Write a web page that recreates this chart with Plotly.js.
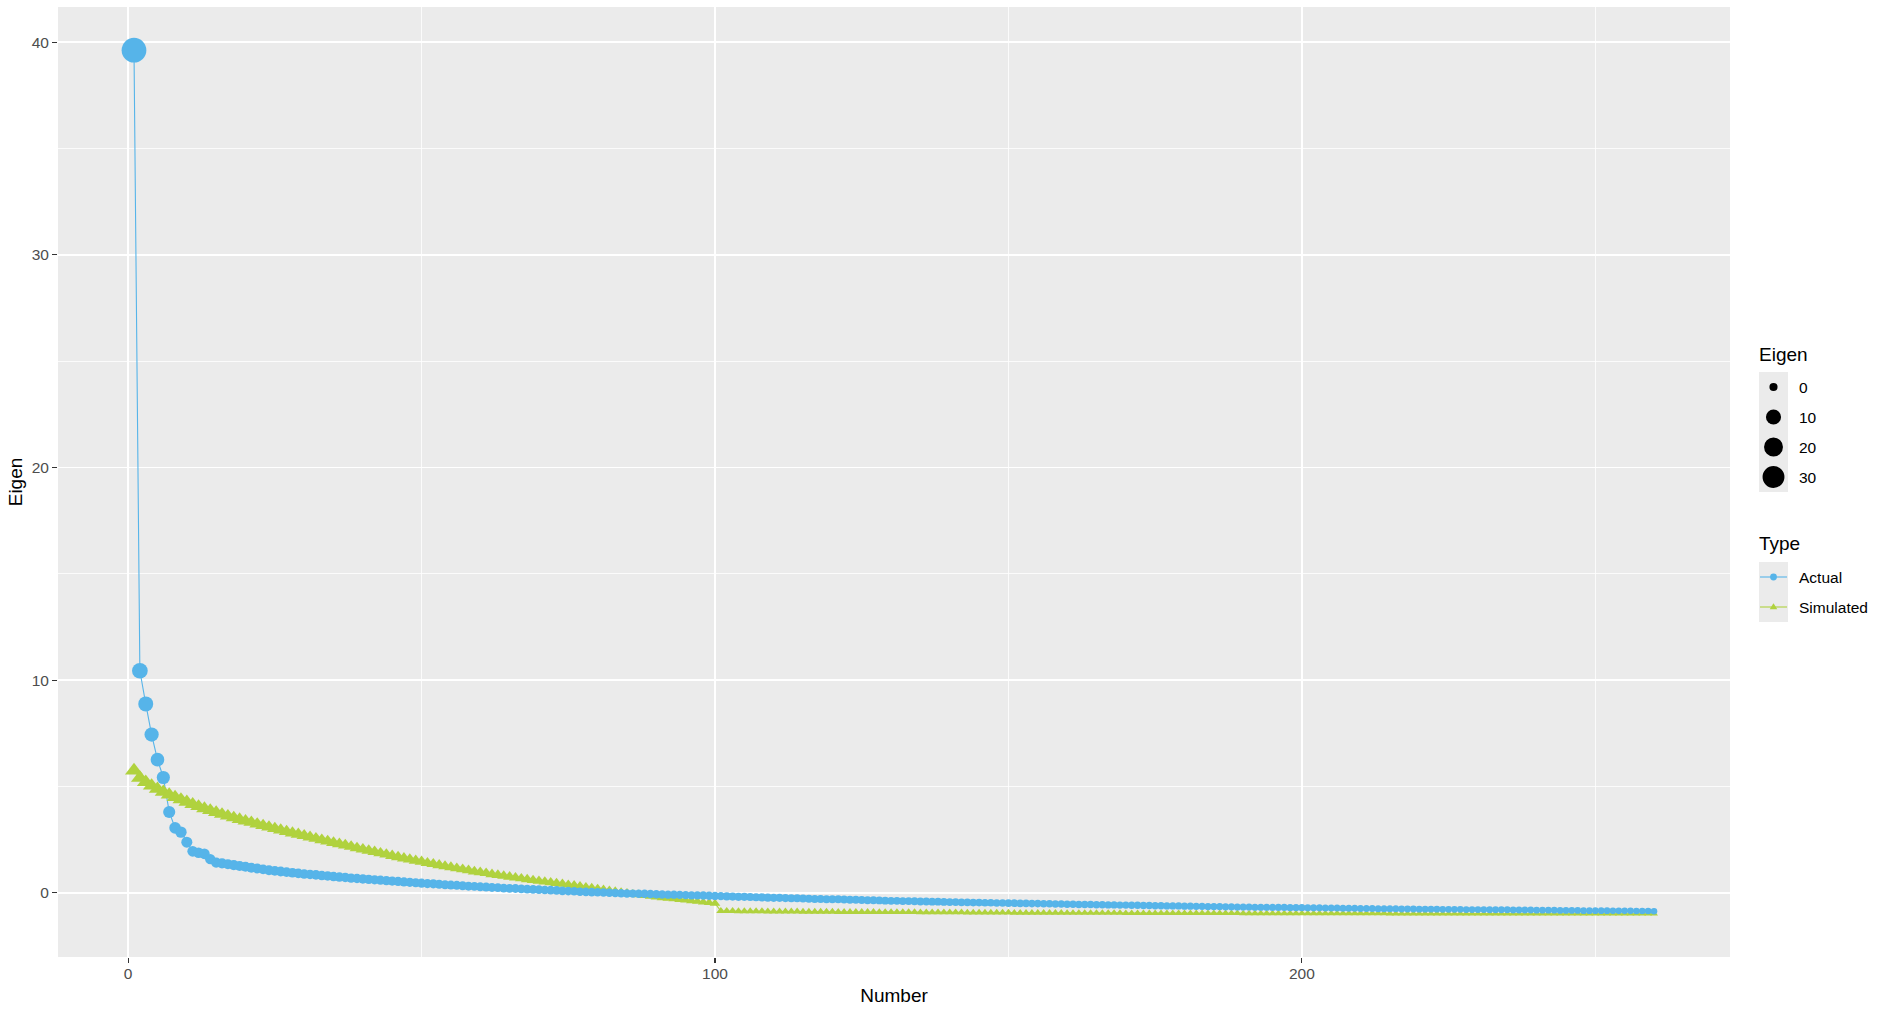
<!DOCTYPE html>
<html>
<head>
<meta charset="utf-8">
<script src="https://cdn.plot.ly/plotly-3.0.1.min.js"></script>
<style>html,body{margin:0;padding:0;background:#fff;}#chart{width:1885px;height:1010px;}</style>
</head>
<body>
<div id="chart"></div>
<script>
// ---------------- data ----------------
const typeLabels = ['Actual', 'Simulated'];
const sizeBreaks = [0, 10, 20, 30];
const xTicks = [0, 100, 200];
const yTicks = [0, 10, 20, 30, 40];

const Actual = [
  39.62, 10.44, 8.88, 7.44, 6.26, 5.42, 3.80, 3.05, 2.85, 2.38,
  1.95, 1.88, 1.83, 1.58, 1.42, 1.38, 1.34, 1.30, 1.26, 1.22,
  1.18, 1.14, 1.10, 1.06, 1.03, 1.00, 0.97, 0.94, 0.91, 0.88,
  0.86, 0.84, 0.81, 0.79, 0.76, 0.74, 0.72, 0.69, 0.67, 0.65,
  0.63, 0.61, 0.59, 0.57, 0.55, 0.53, 0.51, 0.49, 0.47, 0.45,
  0.43, 0.42, 0.40, 0.38, 0.36, 0.35, 0.33, 0.31, 0.30, 0.28,
  0.27, 0.25, 0.24, 0.22, 0.21, 0.20, 0.18, 0.17, 0.16, 0.15,
  0.13, 0.12, 0.11, 0.09, 0.08, 0.07, 0.05, 0.04, 0.03, 0.02,
  0.01, 0.00, -0.01, -0.02, -0.03, -0.04, -0.05, -0.05, -0.06, -0.07,
  -0.08, -0.09, -0.09, -0.10, -0.11, -0.12, -0.12, -0.13, -0.14, -0.15,
  -0.16, -0.17, -0.18, -0.19, -0.19, -0.20, -0.21, -0.22, -0.23, -0.24,
  -0.24, -0.25, -0.26, -0.26, -0.27, -0.28, -0.29, -0.29, -0.30, -0.31,
  -0.31, -0.32, -0.33, -0.33, -0.34, -0.35, -0.35, -0.36, -0.37, -0.38,
  -0.38, -0.39, -0.39, -0.40, -0.41, -0.41, -0.42, -0.42, -0.43, -0.44,
  -0.44, -0.45, -0.45, -0.46, -0.46, -0.47, -0.47, -0.48, -0.48, -0.49,
  -0.49, -0.50, -0.50, -0.51, -0.51, -0.52, -0.52, -0.53, -0.53, -0.54,
  -0.54, -0.55, -0.55, -0.55, -0.56, -0.56, -0.57, -0.57, -0.58, -0.58,
  -0.59, -0.59, -0.60, -0.60, -0.61, -0.61, -0.62, -0.62, -0.62, -0.63,
  -0.63, -0.64, -0.64, -0.65, -0.65, -0.65, -0.66, -0.66, -0.67, -0.67,
  -0.67, -0.68, -0.68, -0.68, -0.69, -0.69, -0.69, -0.70, -0.70, -0.70,
  -0.71, -0.71, -0.71, -0.72, -0.72, -0.72, -0.73, -0.73, -0.73, -0.74,
  -0.74, -0.74, -0.75, -0.75, -0.75, -0.75, -0.76, -0.76, -0.76, -0.77,
  -0.77, -0.77, -0.77, -0.78, -0.78, -0.78, -0.78, -0.79, -0.79, -0.79,
  -0.79, -0.80, -0.80, -0.80, -0.80, -0.81, -0.81, -0.81, -0.81, -0.82,
  -0.82, -0.82, -0.82, -0.83, -0.83, -0.83, -0.83, -0.84, -0.84, -0.84,
  -0.84, -0.84, -0.85, -0.85, -0.85, -0.85, -0.86, -0.86, -0.86, -0.87
];

const Simulated = [
  5.75, 5.40, 5.20, 5.03, 4.88, 4.74, 4.61, 4.49, 4.38, 4.27,
  4.16, 4.06, 3.96, 3.87, 3.78, 3.69, 3.61, 3.53, 3.45, 3.38,
  3.31, 3.23, 3.16, 3.09, 3.02, 2.95, 2.88, 2.81, 2.75, 2.68,
  2.61, 2.55, 2.48, 2.42, 2.35, 2.29, 2.23, 2.17, 2.10, 2.04,
  1.98, 1.92, 1.86, 1.80, 1.74, 1.68, 1.62, 1.57, 1.51, 1.46,
  1.40, 1.35, 1.30, 1.25, 1.20, 1.15, 1.10, 1.05, 1.00, 0.96,
  0.92, 0.87, 0.83, 0.79, 0.75, 0.71, 0.67, 0.63, 0.59, 0.55,
  0.52, 0.48, 0.45, 0.41, 0.37, 0.34, 0.30, 0.26, 0.22, 0.18,
  0.14, 0.10, 0.06, 0.02, -0.02, -0.06, -0.09, -0.13, -0.16, -0.20,
  -0.23, -0.26, -0.29, -0.32, -0.35, -0.38, -0.41, -0.44, -0.47, -0.50,
  -0.86, -0.86, -0.86, -0.87, -0.87, -0.87, -0.87, -0.87, -0.88, -0.88,
  -0.88, -0.88, -0.88, -0.88, -0.89, -0.89, -0.89, -0.89, -0.89, -0.89,
  -0.90, -0.90, -0.90, -0.90, -0.90, -0.90, -0.90, -0.91, -0.91, -0.91,
  -0.91, -0.91, -0.91, -0.91, -0.92, -0.92, -0.92, -0.92, -0.92, -0.92,
  -0.92, -0.92, -0.93, -0.93, -0.93, -0.93, -0.93, -0.93, -0.93, -0.93,
  -0.94, -0.94, -0.94, -0.94, -0.94, -0.94, -0.94, -0.94, -0.94, -0.95,
  -0.95, -0.95, -0.95, -0.95, -0.95, -0.95, -0.95, -0.95, -0.95, -0.96,
  -0.96, -0.96, -0.96, -0.96, -0.96, -0.96, -0.96, -0.96, -0.96, -0.96,
  -0.96, -0.96, -0.96, -0.96, -0.96, -0.96, -0.96, -0.96, -0.96, -0.97,
  -0.97, -0.97, -0.97, -0.97, -0.97, -0.97, -0.97, -0.97, -0.97, -0.97,
  -0.97, -0.97, -0.97, -0.97, -0.97, -0.97, -0.97, -0.97, -0.97, -0.97,
  -0.97, -0.97, -0.97, -0.97, -0.98, -0.98, -0.98, -0.98, -0.98, -0.98,
  -0.98, -0.98, -0.98, -0.98, -0.98, -0.98, -0.98, -0.98, -0.98, -0.98,
  -0.98, -0.98, -0.98, -0.98, -0.98, -0.98, -0.98, -0.98, -0.98, -0.98,
  -0.99, -0.99, -0.99, -0.99, -0.99, -0.99, -0.99, -0.99, -0.99, -0.99,
  -0.99, -0.99, -0.99, -0.99, -0.99, -0.99, -0.99, -0.99, -0.99, -0.99
];

// factor index (1..N)
const factorNumber = Actual.map((_, i) => i + 1);

// ---------------- styles ----------------
const BLUE = '#56B4E9';
const GREEN = '#B0D23E';
const FONT = 'Liberation Sans, Arial, Helvetica, sans-serif';
const TICK_FS = 15.5, TITLE_FS = 19;

// ggplot-like area size scale (range 1..6)
const allVals = Actual.concat(Simulated);
const vmin = Math.min(...allVals), vmax = Math.max(...allVals);
function diam(v) {
  const s = 1 + 5 * Math.sqrt(Math.max(0, (v - vmin) / (vmax - vmin)));
  return 1.35 * (s * 2.845 + 0.945);
}
const triSize = v => diam(v) * 1.12 + 1.2;

// ggplot-like 5% expansion
const nMin = Math.min(...factorNumber), nMax = Math.max(...factorNumber);
const xr = [nMin - 0.05 * (nMax - nMin), nMax + 0.05 * (nMax - nMin)];
const yr = [vmin - 0.05 * (vmax - vmin), vmax + 0.05 * (vmax - vmin)];

// plot area in pixels
const M = {l: 58, r: 155, t: 7, b: 53};
const W = 1885, H = 1010;
const PW = W - M.l - M.r, PH = H - M.t - M.b;
const px = x => (x - M.l) / PW;          // pixel -> paper x
const py = y => (H - M.b - y) / PH;      // pixel -> paper y

const traces = [
  {x: factorNumber, y: Simulated, type: 'scatter', mode: 'lines', line: {color: GREEN, width: 1.1}, hoverinfo: 'skip', showlegend: false},
  {x: factorNumber, y: Actual, type: 'scatter', mode: 'lines', line: {color: BLUE, width: 1.1}, hoverinfo: 'skip', showlegend: false},
  {x: factorNumber, y: Simulated, type: 'scatter', mode: 'markers', name: typeLabels[1],
   marker: {symbol: 'triangle-up', color: GREEN, opacity: 1, size: Simulated.map(triSize), line: {width: 0}}, showlegend: false},
  {x: factorNumber, y: Actual, type: 'scatter', mode: 'markers', name: typeLabels[0],
   marker: {symbol: 'circle', color: BLUE, opacity: 1, size: Actual.map(v => diam(v) + 0.4), line: {width: 0}}, showlegend: false}
];

// ---------------- manual ggplot-style legend ----------------
const shapes = [], annotations = [];
const KX0 = 1759, KW = 29, KH = 30, LX = 1799;
function txt(text, x, y, size) {
  annotations.push({text: text, x: px(x), y: py(y), xref: 'paper', yref: 'paper', xanchor: 'left', yanchor: 'middle',
    showarrow: false, font: {family: FONT, size: size, color: '#000000'}});
}
function rect(x0, y0, x1, y1, fill) {
  shapes.push({type: 'rect', xref: 'paper', yref: 'paper', x0: px(x0), x1: px(x1), y0: py(y0), y1: py(y1),
    fillcolor: fill, line: {width: 0}, layer: 'above'});
}
// Eigen (size) legend
txt('Eigen', KX0 - 2, 354, TITLE_FS);
const sTop = 372;
rect(KX0, sTop, KX0 + KW, sTop + KH * sizeBreaks.length, '#EBEBEB');
sizeBreaks.forEach((b, i) => {
  const cy = sTop + KH * i + KH / 2, cx = KX0 + KW / 2, r = diam(b) / 2;
  shapes.push({type: 'circle', xref: 'paper', yref: 'paper', x0: px(cx - r), x1: px(cx + r), y0: py(cy + r), y1: py(cy - r),
    fillcolor: '#000000', line: {width: 0}, layer: 'above'});
  txt(String(b), LX - 2, cy, TICK_FS);
});
// Type legend
txt('Type', KX0 - 2, 543, TITLE_FS);
const tTop = 562;
rect(KX0, tTop, KX0 + KW, tTop + KH * typeLabels.length, '#EBEBEB');
typeLabels.forEach((lab, i) => {
  const cy = tTop + KH * i + KH / 2, cx = KX0 + KW / 2;
  const col = i === 0 ? BLUE : GREEN;
  shapes.push({type: 'line', xref: 'paper', yref: 'paper', x0: px(KX0 + 1), x1: px(KX0 + KW - 1), y0: py(cy), y1: py(cy),
    line: {color: col, width: 1.1}, layer: 'above'});
  if (i === 0) {
    const r = 3.4;
    shapes.push({type: 'circle', xref: 'paper', yref: 'paper', x0: px(cx - r), x1: px(cx + r), y0: py(cy + r), y1: py(cy - r),
      fillcolor: col, line: {width: 0}, layer: 'above'});
  } else {
    const h = 3.8;
    const path = 'M' + px(cx - h) + ',' + py(cy + h * 0.6) + ' L' + px(cx + h) + ',' + py(cy + h * 0.6) +
                 ' L' + px(cx) + ',' + py(cy - h) + ' Z';
    shapes.push({type: 'path', xref: 'paper', yref: 'paper', path: path, fillcolor: col, line: {width: 0}, layer: 'above'});
  }
  txt(lab, LX - 2, cy, TICK_FS);
});

const layout = {
  width: W, height: H,
  margin: M,
  paper_bgcolor: '#FFFFFF',
  plot_bgcolor: '#EBEBEB',
  showlegend: false,
  font: {family: FONT},
  xaxis: {
    range: xr, tickvals: xTicks, ticktext: xTicks.map(String),
    ticks: 'outside', ticklen: 5, tickwidth: 1.1, tickcolor: '#333333', ticklabelstandoff: -3,
    tickfont: {family: FONT, size: TICK_FS, color: '#4D4D4D'},
    showgrid: true, gridcolor: '#FFFFFF', gridwidth: 1.6,
    minor: {dtick: 50, tick0: 0, showgrid: true, gridcolor: '#FFFFFF', gridwidth: 0.8, ticks: ''},
    zeroline: false, showline: false, automargin: false,
    title: {text: 'Number', font: {family: FONT, size: TITLE_FS, color: '#000000'}, standoff: 8}
  },
  yaxis: {
    range: yr, tickvals: yTicks, ticktext: yTicks.map(String),
    ticks: 'outside', ticklen: 5, tickwidth: 1.1, tickcolor: '#333333',
    tickfont: {family: FONT, size: TICK_FS, color: '#4D4D4D'},
    showgrid: true, gridcolor: '#FFFFFF', gridwidth: 1.6,
    minor: {dtick: 5, tick0: 0, showgrid: true, gridcolor: '#FFFFFF', gridwidth: 0.8, ticks: ''},
    zeroline: false, showline: false, automargin: false,
    title: {text: 'Eigen', font: {family: FONT, size: TITLE_FS, color: '#000000'}, standoff: 4}
  },
  shapes: shapes,
  annotations: annotations
};

Plotly.newPlot('chart', traces, layout, {displayModeBar: false, staticPlot: true});
</script>
</body>
</html>
